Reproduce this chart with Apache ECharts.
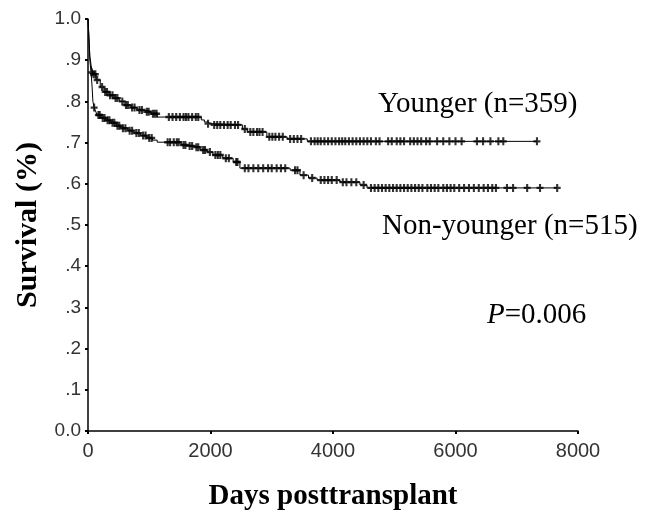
<!DOCTYPE html>
<html>
<head>
<meta charset="utf-8">
<script src="https://cdn.jsdelivr.net/npm/echarts@6/dist/echarts.min.js"></script>
<style>
  html, body { margin: 0; padding: 0; background: #fff; }
  #main { width: 665px; height: 514px; }
</style>
</head>
<body>
<div id="main"></div>
<script>
// Kaplan-Meier steps: time (days) where survival changes, and the new survival
const youngerTimes = [0, 10, 20, 30, 50, 80, 130, 200, 260, 340, 425, 510, 590, 700, 800, 920, 1030, 1130, 1850, 1900, 1950, 2000, 2520, 2600, 2920, 3250, 3580, 7330]
const youngerSurv = [1.0, 0.97, 0.94, 0.91, 0.888, 0.866, 0.852, 0.835, 0.823, 0.815, 0.808, 0.800, 0.791, 0.785, 0.779, 0.775, 0.770, 0.762, 0.755, 0.750, 0.746, 0.743, 0.733, 0.726, 0.714, 0.709, 0.703, 0.703]

const olderTimes = [0, 10, 20, 30, 50, 65, 80, 100, 130, 150, 210, 290, 375, 460, 540, 650, 750, 860, 965, 1050, 1130, 1520, 1620, 1730, 1830, 1945, 2040, 2200, 2370, 2480, 3300, 3460, 3600, 3740, 4115, 4440, 4555, 7660]
const olderSurv = [1.0, 0.97, 0.94, 0.90, 0.87, 0.84, 0.80, 0.785, 0.774, 0.767, 0.760, 0.754, 0.748, 0.741, 0.735, 0.729, 0.723, 0.717, 0.711, 0.706, 0.701, 0.694, 0.692, 0.689, 0.682, 0.677, 0.670, 0.662, 0.653, 0.638, 0.633, 0.621, 0.614, 0.609, 0.604, 0.597, 0.590, 0.590]

// censored observations (days)
const youngerCensor = [90, 120, 150, 230, 280, 310, 360, 400, 450, 480, 560, 620, 650, 720, 760, 840, 880, 960, 990, 1060, 1090, 1120,
  1320, 1380, 1440, 1500, 1560, 1600, 1640, 1700, 1760, 1800, 1960, 2060, 2110, 2160, 2220, 2280, 2330, 2400, 2450, 2560,
  2650, 2700, 2760, 2800, 2850, 2960, 3010, 3060, 3120, 3180, 3300, 3360, 3420, 3480, 3640, 3700, 3750, 3800, 3860, 3920,
  3980, 4040, 4100, 4150, 4200, 4260, 4320, 4380, 4440, 4500, 4560, 4620, 4700, 4760, 4900, 4960, 5040, 5100, 5160, 5260,
  5320, 5380, 5440, 5520, 5580, 5700, 5800, 5900, 6000, 6100, 6350, 6450, 6570, 6700, 6780, 7330]

const olderCensor = [60, 100, 170, 190, 240, 270, 320, 350, 400, 430, 480, 510, 570, 610, 680, 720, 790, 830, 900, 940, 1000, 1040,
  1300, 1340, 1400, 1450, 1480, 1560, 1590, 1660, 1700, 1770, 1800, 1880, 1910, 1990, 2080, 2120, 2160, 2250, 2300, 2420,
  2440, 2560, 2620, 2700, 2780, 2860, 2940, 3000, 3080, 3150, 3220, 3380, 3420, 3520, 3660, 3800, 3860, 3920, 3980, 4060,
  4160, 4220, 4300, 4380, 4500, 4620, 4680, 4740, 4800, 4860, 4920, 4980, 5040, 5100, 5160, 5220, 5280, 5340, 5400, 5460,
  5540, 5600, 5660, 5720, 5800, 5860, 5920, 5980, 6060, 6140, 6220, 6300, 6380, 6460, 6530, 6600, 6660, 6840, 6940, 7170,
  7380, 7660]

const xTicks = [0, 2000, 4000, 6000, 8000]
const yLabels = ['0.0', '.1', '.2', '.3', '.4', '.5', '.6', '.7', '.8', '.9', '1.0']

// survival at time t
function survAt (times, surv, t) {
  let s = surv[0]
  for (let i = 0; i < times.length; i++) {
    if (times[i] <= t) s = surv[i]
  }
  return s
}

function pairs (times, surv) {
  return times.map((t, i) => [t, surv[i]])
}

function censorPoints (times, surv, cens) {
  return cens.map(t => [t, survAt(times, surv, t)])
}

const plus = 'path://M3.5,0h3v3.5h3.5v3h-3.5v3.5h-3v-3.5h-3.5v-3h3.5z'
const serif = '"Liberation Serif", "Times New Roman", serif'

const myChart = echarts.init(document.getElementById('main'))

const option = {
  backgroundColor: '#fff',
  animation: false,
  grid: { left: 88, right: 87, top: 19, bottom: 83, outerBoundsMode: 'none', containLabel: false },
  xAxis: {
    type: 'value',
    min: xTicks[0],
    max: xTicks[xTicks.length - 1],
    interval: 2000,
    name: 'Days posttransplant',
    nameLocation: 'middle',
    nameGap: 51,
    nameTextStyle: { fontFamily: serif, fontWeight: 'bold', fontSize: 29, color: '#000' },
    axisLine: { lineStyle: { color: '#000', width: 1.5 } },
    axisTick: { length: 3, lineStyle: { color: '#000', width: 2 } },
    axisLabel: {
      fontFamily: '"Liberation Sans", Arial, sans-serif',
      fontSize: 20,
      color: '#333',
      margin: 10,
      formatter: v => String(v)
    },
    splitLine: { show: false }
  },
  yAxis: {
    type: 'value',
    min: 0,
    max: 1,
    interval: 0.1,
    name: 'Survival (%)',
    nameLocation: 'middle',
    nameGap: 42,
    nameRotate: 90,
    nameTextStyle: { fontFamily: serif, fontWeight: 'bold', fontSize: 30, color: '#000' },
    axisLine: { show: true, lineStyle: { color: '#000', width: 1.5 } },
    axisTick: { show: true, length: 3, lineStyle: { color: '#000', width: 2 } },
    axisLabel: {
      fontFamily: '"Liberation Sans", Arial, sans-serif',
      fontSize: 19,
      color: '#333',
      margin: 7,
      formatter: v => yLabels[Math.round(v * 10)]
    },
    splitLine: { show: false }
  },
  series: [
    {
      type: 'line', step: 'end', showSymbol: false,
      data: pairs(youngerTimes, youngerSurv),
      lineStyle: { color: '#000', width: 1 }
    },
    {
      type: 'line', step: 'end', showSymbol: false,
      data: pairs(olderTimes, olderSurv),
      lineStyle: { color: '#000', width: 1 }
    },
    {
      type: 'scatter', symbol: plus, symbolSize: [7, 8],
      data: censorPoints(youngerTimes, youngerSurv, youngerCensor),
      itemStyle: { color: '#000' }
    },
    {
      type: 'scatter', symbol: plus, symbolSize: [7, 8],
      data: censorPoints(olderTimes, olderSurv, olderCensor),
      itemStyle: { color: '#000' }
    }
  ],
  graphic: [
    {
      type: 'text', left: 378, top: 90,
      style: { text: 'Younger (n=359)', font: '29px ' + serif, fill: '#000' }
    },
    {
      type: 'text', left: 382, top: 212,
      style: { text: 'Non-younger (n=515)', font: '29px ' + serif, fill: '#000' }
    },
    {
      type: 'text', left: 487, top: 301,
      style: {
        text: '{i|P}=0.006',
        font: '29px ' + serif,
        fill: '#000',
        rich: { i: { fontFamily: serif, fontStyle: 'italic', fontSize: 29, fill: '#000', color: '#000' } }
      }
    }
  ]
}

myChart.setOption(option)
</script>
</body>
</html>
